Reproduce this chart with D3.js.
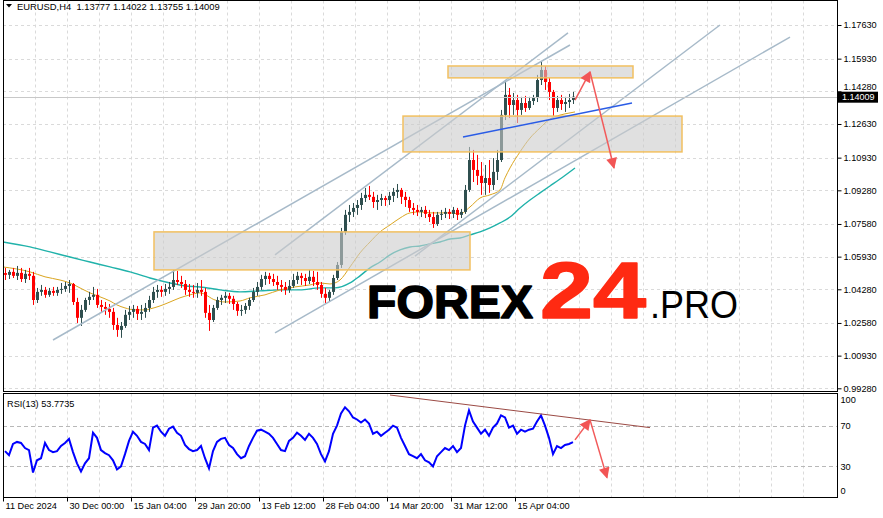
<!DOCTYPE html>
<html><head><meta charset="utf-8">
<script src="https://cdn.jsdelivr.net/npm/d3@7"></script>
<style>
body{margin:0;background:#fff;}
svg{display:block;}
text{font-family:"Liberation Sans",Arial,sans-serif;}
</style>
</head><body><svg id="c" width="883" height="518"></svg>
<script>
// ---------------- DATA ----------------
const symbolTitle = "EURUSD,H4  1.13777 1.14022 1.13755 1.14009";
const rsiTitle = "RSI(13) 53.7735";
const lastPrice = 1.14009;
const lastPriceLabel = "1.14009";

const priceTickValues = [1.17630,1.15930,1.14280,1.12630,1.10930,1.09280,1.07580,1.05930,1.04280,1.02580,1.00930,0.99280];
const priceTickLabels = ["1.17630","1.15930","1.14280","1.12630","1.10930","1.09280","1.07580","1.05930","1.04280","1.02580","1.00930","0.99280"];
const rsiTicks = [100,70,30,0];
const rsiLevels = [70,30];

const timeLabels = ["11 Dec 2024","30 Dec 00:00","15 Jan 04:00","29 Jan 20:00","13 Feb 12:00","28 Feb 04:00","14 Mar 20:00","31 Mar 12:00","15 Apr 04:00"];
const timeLabelBars = [0,64,128,192,256,320,384,448,512];

// candles (each one spans 4 H4 bars)
const barsPerCandle = 4;
const firstOpen = 1.0510;
const highs = [
1.0536,1.0526,1.0536,1.0546,1.0536,1.0526,1.0536,1.0516,1.0435,1.0450,
1.0440,1.0435,1.0440,1.0440,1.0460,1.0465,1.0475,1.0460,1.0385,1.0349,
1.0385,1.0415,1.0440,1.0430,1.0374,1.0364,1.0354,1.0334,1.0284,1.0263,
1.0324,1.0344,1.0349,1.0344,1.0349,1.0359,1.0395,1.0440,1.0450,1.0445,
1.0455,1.0465,1.0526,1.0521,1.0496,1.0475,1.0455,1.0450,1.0460,1.0475,
1.0435,1.0349,1.0349,1.0390,1.0400,1.0415,1.0410,1.0395,1.0364,1.0349,
1.0359,1.0385,1.0435,1.0465,1.0501,1.0516,1.0511,1.0506,1.0496,1.0475,
1.0465,1.0475,1.0506,1.0516,1.0511,1.0506,1.0526,1.0521,1.0516,1.0465,
1.0435,1.0425,1.0501,1.0566,1.0738,1.0829,1.0854,1.0864,1.0879,1.0915,
1.0940,1.0950,1.0920,1.0905,1.0910,1.0900,1.0920,1.0940,1.0960,1.0940,
1.0920,1.0895,1.0864,1.0854,1.0844,1.0849,1.0829,1.0819,1.0819,1.0829,
1.0839,1.0834,1.0844,1.0839,1.0834,1.0955,1.1147,1.1132,1.1107,1.1071,
1.1056,1.1081,1.1091,1.1132,1.1334,1.1485,1.1445,1.1420,1.1410,1.1400,
1.1405,1.1400,1.1410,1.1511,1.1576,1.1556,1.1496,1.1435,1.1405,1.1410,
1.1400,1.1415,1.1425];
const lows = [
1.0475,1.0480,1.0485,1.0475,1.0465,1.0460,1.0475,1.0349,1.0359,1.0395,
1.0385,1.0390,1.0395,1.0395,1.0405,1.0415,1.0410,1.0349,1.0258,1.0243,
1.0314,1.0349,1.0374,1.0334,1.0314,1.0299,1.0284,1.0223,1.0188,1.0183,
1.0233,1.0273,1.0284,1.0273,1.0273,1.0284,1.0314,1.0359,1.0385,1.0390,
1.0395,1.0405,1.0425,1.0450,1.0435,1.0400,1.0390,1.0385,1.0385,1.0395,
1.0284,1.0218,1.0263,1.0324,1.0349,1.0359,1.0354,1.0324,1.0294,1.0294,
1.0304,1.0324,1.0364,1.0395,1.0425,1.0450,1.0455,1.0445,1.0425,1.0415,
1.0400,1.0410,1.0435,1.0455,1.0450,1.0445,1.0455,1.0445,1.0425,1.0385,
1.0359,1.0364,1.0400,1.0475,1.0536,1.0703,1.0768,1.0793,1.0804,1.0829,
1.0869,1.0879,1.0839,1.0829,1.0849,1.0849,1.0854,1.0869,1.0889,1.0859,
1.0844,1.0819,1.0804,1.0798,1.0793,1.0788,1.0768,1.0738,1.0748,1.0778,
1.0788,1.0783,1.0788,1.0778,1.0788,1.0809,1.0920,1.0970,1.0955,1.0905,
1.0905,1.0915,1.0930,1.0980,1.1071,1.1283,1.1293,1.1309,1.1268,1.1309,
1.1324,1.1334,1.1359,1.1374,1.1460,1.1435,1.1384,1.1303,1.1324,1.1334,
1.1324,1.1344,1.1364];
const closes = [
1.0501,1.0516,1.0496,1.0511,1.0480,1.0506,1.0496,1.0374,1.0415,1.0425,
1.0400,1.0420,1.0410,1.0425,1.0430,1.0445,1.0455,1.0364,1.0284,1.0324,
1.0374,1.0390,1.0400,1.0349,1.0339,1.0329,1.0314,1.0248,1.0223,1.0243,
1.0299,1.0314,1.0329,1.0304,1.0314,1.0334,1.0374,1.0415,1.0425,1.0415,
1.0430,1.0440,1.0475,1.0465,1.0455,1.0425,1.0415,1.0410,1.0425,1.0415,
1.0309,1.0273,1.0334,1.0374,1.0385,1.0395,1.0380,1.0354,1.0319,1.0324,
1.0344,1.0374,1.0415,1.0440,1.0480,1.0496,1.0480,1.0465,1.0450,1.0440,
1.0425,1.0445,1.0475,1.0496,1.0485,1.0470,1.0491,1.0465,1.0450,1.0405,
1.0385,1.0415,1.0485,1.0551,1.0718,1.0804,1.0819,1.0839,1.0854,1.0889,
1.0905,1.0895,1.0869,1.0879,1.0889,1.0879,1.0900,1.0920,1.0930,1.0895,
1.0879,1.0839,1.0829,1.0819,1.0829,1.0809,1.0793,1.0758,1.0804,1.0809,
1.0819,1.0809,1.0829,1.0804,1.0819,1.0930,1.1081,1.1031,1.1001,1.0965,
1.0990,1.0955,1.1021,1.1081,1.1309,1.1410,1.1359,1.1384,1.1334,1.1369,
1.1344,1.1379,1.1394,1.1485,1.1536,1.1475,1.1425,1.1344,1.1384,1.1364,
1.1374,1.1384,1.14009];

const rsiValues = [
45,41,52,54,53,48,46,24,36,38,
53,46,44,45,50,53,57,44,33,25,
33,38,63,58,46,43,41,36,27,30,
42,55,64,60,54,52,46,68,70,64,
60,67,69,63,60,51,47,45,46,50,
38,28,45,54,57,58,51,48,42,38,
40,50,58,65,66,64,62,58,52,46,
45,55,58,63,60,56,62,58,52,42,
35,45,62,70,82,88,84,78,76,73,
76,72,62,64,60,63,66,70,68,58,
50,42,40,38,42,36,34,30,40,44,
48,46,50,44,48,70,85,74,68,62,
66,60,68,72,80,78,68,70,62,66,
64,66,67,74,80,70,58,42,50,48,
51,52,53.77];

// moving averages (bar index, value)
const maFastBars = [0,27,42,57,67,77,87,97,107,114,122,132,142,147,157,167,177,187,197,212,222,237,247,262,277,292,307,317,327,337,347,357,367,377,387,397,407,417,427,437,447,457,467,477,487,497,502,507,517,527,537,547,557,567,572];
const maFastValues = [1.0541,1.0516,1.0491,1.0475,1.0460,1.0435,1.0410,1.0390,1.0369,1.0349,1.0334,1.0324,1.0324,1.0329,1.0344,1.0364,1.0385,1.0400,1.0410,1.0374,1.0364,1.0369,1.0385,1.0400,1.0425,1.0440,1.0450,1.0460,1.0455,1.0475,1.0541,1.0612,1.0667,1.0718,1.0753,1.0788,1.0814,1.0819,1.0814,1.0814,1.0814,1.0809,1.0844,1.0889,1.0905,1.0930,1.0991,1.1041,1.1122,1.1192,1.1243,1.1288,1.1308,1.1319,1.1324];
const maSlowBars = [0,27,47,67,87,107,127,147,167,182,197,217,237,257,277,297,317,332,347,357,367,377,387,397,407,417,427,437,447,457,467,477,487,497,507,517,527,537,547,557,572];
const maSlowValues = [1.0667,1.0642,1.0617,1.0591,1.0566,1.0541,1.0516,1.0485,1.0460,1.0445,1.0440,1.0425,1.0415,1.0420,1.0425,1.0425,1.0435,1.0435,1.0460,1.0496,1.0536,1.0566,1.0602,1.0627,1.0642,1.0647,1.0657,1.0667,1.0682,1.0687,1.0703,1.0718,1.0738,1.0763,1.0793,1.0839,1.0879,1.0915,1.0950,1.0985,1.1041];

// drawn objects in (bar, price) space
const channelLines = [
  [50,1.0172,567,1.1662],
  [272,1.0602,565,1.1723],
  [272,1.0208,787,1.1702],
  [412,1.0596,717,1.1763]
];
const zones = [
  [445,630,1.1556,1.1496],
  [400,679,1.1303,1.1122],
  [151,467,1.0718,1.0526]
];
const supportLine = [460,1.1197,629,1.1369];
const forecastPrice = [[572,1.1384],[587,1.1526],[611,1.1041]];
const forecastRsi = [[572,56],[587,75.6],[604,19]];
const rsiTrend = [387,100,647,68];

// ---------------- LAYOUT ----------------
const L = 3, R = 837, mainTop = 0.5, mainBottom = 391.5, rsiTop = 393.5, rsiBottom = 497.5;
const svg = d3.select('#c');
svg.append('rect').attr('width',883).attr('height',518).attr('fill','#fff');

const x = d3.scaleLinear().domain([0,834]).range([L,R]);
const y = d3.scaleLinear().domain([0.99280,1.17630]).range([388.3,25]);
const yr = d3.scaleLinear().domain([0,100]).range([497,395]);

const defs = svg.append('defs');
defs.append('clipPath').attr('id','clipMain').append('rect')
  .attr('x',L).attr('y',mainTop).attr('width',R-L).attr('height',mainBottom-mainTop);
defs.append('clipPath').attr('id','clipRsi').append('rect')
  .attr('x',L).attr('y',rsiTop).attr('width',R-L).attr('height',rsiBottom-rsiTop);
defs.append('marker').attr('id','ah').attr('viewBox','0 0 10 10').attr('refX',9).attr('refY',5)
  .attr('markerWidth',13).attr('markerHeight',11).attr('markerUnits','userSpaceOnUse').attr('orient','auto')
  .append('path').attr('d','M0,0 L10,5 L0,10 Z').attr('fill','#f25555');

// grid
const grid = svg.append('g').attr('stroke','#dadada').attr('stroke-dasharray','3,3').attr('stroke-width',1);
for (let k = 1; k <= 25; k++) {
  const gx = Math.round(x(32*k)) + 0.5;
  grid.append('line').attr('x1',gx).attr('x2',gx).attr('y1',mainTop).attr('y2',mainBottom);
  grid.append('line').attr('x1',gx).attr('x2',gx).attr('y1',rsiTop).attr('y2',rsiBottom);
}
priceTickValues.forEach(v => {
  const gy = Math.round(y(v)) + 0.5;
  grid.append('line').attr('x1',L).attr('x2',R).attr('y1',gy).attr('y2',gy);
});
rsiLevels.forEach(v => {
  const gy = Math.round(yr(v)) + 0.5;
  svg.append('line').attr('x1',L).attr('x2',R).attr('y1',gy).attr('y2',gy)
    .attr('stroke','#b8b8b8').attr('stroke-dasharray','4,3');
});

const main = svg.append('g').attr('clip-path','url(#clipMain)');

// moving averages
const ln = d3.line().x(d => x(d[0])).y(d => y(d[1])).curve(d3.curveMonotoneX);
main.append('path').datum(maSlowBars.map((b,i)=>[b,maSlowValues[i]]))
  .attr('d',ln).attr('fill','none').attr('stroke','#20b2aa').attr('stroke-width',1.4);
main.append('path').datum(maFastBars.map((b,i)=>[b,maFastValues[i]]))
  .attr('d',ln).attr('fill','none').attr('stroke','#daa520').attr('stroke-width',1);

// candles
const candles = closes.map((c,i) => ({
  bar: i*barsPerCandle + barsPerCandle/2,
  o: i ? closes[i-1] : firstOpen, h: highs[i], l: lows[i], c
}));
const cg = main.append('g');
candles.forEach(d => {
  const col = d.c >= d.o ? '#2f4f4f' : '#ff0000';
  const cx = x(d.bar);
  cg.append('line').attr('x1',cx+0.5).attr('x2',cx+0.5).attr('y1',y(d.h)).attr('y2',y(d.l))
    .attr('stroke',col).attr('stroke-width',1);
  const top = Math.min(y(d.o),y(d.c));
  cg.append('rect').attr('x',cx-1).attr('width',3).attr('y',top)
    .attr('height',Math.max(1,Math.abs(y(d.o)-y(d.c)))).attr('fill',col);
});

// channel lines
channelLines.forEach(c => {
  main.append('line').attr('x1',x(c[0])).attr('y1',y(c[1])).attr('x2',x(c[2])).attr('y2',y(c[3]))
    .attr('stroke','#a7bac9').attr('stroke-width',1.5);
});

// zones
zones.forEach(z => {
  main.append('rect').attr('x',x(z[0])).attr('width',x(z[1])-x(z[0]))
    .attr('y',y(z[2])).attr('height',y(z[3])-y(z[2]))
    .attr('fill','#cccccc').attr('fill-opacity',0.6)
    .attr('stroke','#f2c060').attr('stroke-width',1.5);
});

// support line
main.append('line').attr('x1',x(supportLine[0])).attr('y1',y(supportLine[1]))
  .attr('x2',x(supportLine[2])).attr('y2',y(supportLine[3]))
  .attr('stroke','#2a5ce6').attr('stroke-width',1.5);

// current price line
main.append('line').attr('x1',L).attr('x2',R).attr('y1',Math.round(y(lastPrice))+0.5).attr('y2',Math.round(y(lastPrice))+0.5)
  .attr('stroke','#c8c8c8');

// forecast arrows
for (let i = 0; i < forecastPrice.length-1; i++) {
  const a = forecastPrice[i], b = forecastPrice[i+1];
  svg.append('line').attr('x1',x(a[0])).attr('y1',y(a[1])).attr('x2',x(b[0])).attr('y2',y(b[1]))
    .attr('stroke','#f25a5a').attr('stroke-width',1.5).attr('marker-end','url(#ah)');
}

// RSI
const rsiG = svg.append('g').attr('clip-path','url(#clipRsi)');
rsiG.append('path').datum(rsiValues.map((v,i)=>[i*barsPerCandle+barsPerCandle/2, v]))
  .attr('d', d3.line().x(d=>x(d[0])).y(d=>yr(d[1])))
  .attr('fill','none').attr('stroke','#0000ff').attr('stroke-width',2);
rsiG.append('line').attr('x1',x(rsiTrend[0])).attr('y1',yr(rsiTrend[1])).attr('x2',x(rsiTrend[2])).attr('y2',yr(rsiTrend[3]))
  .attr('stroke','#9b4a44').attr('stroke-width',1);
for (let i = 0; i < forecastRsi.length-1; i++) {
  const a = forecastRsi[i], b = forecastRsi[i+1];
  svg.append('line').attr('x1',x(a[0])).attr('y1',yr(a[1])).attr('x2',x(b[0])).attr('y2',yr(b[1]))
    .attr('stroke','#f25a5a').attr('stroke-width',1.5).attr('marker-end','url(#ah)');
}

// frames
const fr = svg.append('g').attr('stroke','#000').attr('stroke-width',1).attr('fill','none');
fr.append('rect').attr('x',L+0.5).attr('y',mainTop).attr('width',R-L).attr('height',mainBottom-mainTop);
fr.append('rect').attr('x',L+0.5).attr('y',rsiTop).attr('width',R-L).attr('height',rsiBottom-rsiTop);

// price axis
const ax = svg.append('g').attr('transform',`translate(${R+0.5},0)`)
  .call(d3.axisRight(y).tickValues(priceTickValues).tickFormat((d,i)=>priceTickLabels[i]).tickSize(4).tickPadding(2));
ax.select('.domain').remove();
ax.selectAll('text').attr('font-size',9.2).attr('font-family','"Liberation Sans",Arial,sans-serif').attr('fill','#000')
  .attr('dy', d => d === 1.14280 ? '-0.25em' : '0.32em');
ax.selectAll('line').attr('stroke','#000');

// current price label
const lpY = y(lastPrice);
svg.append('rect').attr('x',838).attr('y',lpY-5).attr('width',40).attr('height',11).attr('fill','#000');
svg.append('text').attr('x',842).attr('y',lpY+3.8).attr('font-size',9).attr('fill','#fff').text(lastPriceLabel);

// rsi axis
const rAx = svg.append('g').attr('transform',`translate(${R+0.5},0)`)
  .call(d3.axisRight(yr).tickValues(rsiTicks).tickSize(0).tickPadding(3));
rAx.select('.domain').remove();
rAx.selectAll('text').attr('font-size',9.2).attr('font-family','"Liberation Sans",Arial,sans-serif').attr('fill','#000')
  .attr('dy', d => d === 100 ? '0.85em' : (d === 0 ? '-0.35em' : '0.32em'));

// time axis
const tAx = svg.append('g').attr('transform',`translate(0,${rsiBottom})`)
  .call(d3.axisBottom(x).tickValues(timeLabelBars).tickFormat((d,i)=>timeLabels[i]).tickSize(4).tickPadding(2));
tAx.select('.domain').remove();
tAx.selectAll('line').attr('stroke','#000');
tAx.selectAll('text').attr('font-size',9.2).attr('font-family','"Liberation Sans",Arial,sans-serif').attr('fill','#000')
  .attr('text-anchor','start').attr('dx',2).attr('dy','0.6em');

// titles
svg.append('path').attr('d','M6,4 L12,4 L9,7.5 Z').attr('fill','#000');
svg.append('text').attr('x',17).attr('y',10).attr('font-size',9.4).attr('fill','#000').attr('xml:space','preserve').text(symbolTitle);
svg.append('text').attr('x',7).attr('y',406.5).attr('font-size',9.2).attr('fill','#000').text(rsiTitle);

// logo
const logo = svg.append('g').attr('font-family','Inter, Lato, Roboto, sans-serif');
logo.append('text').attr('x',367).attr('y',317.5).attr('font-size',47).attr('font-weight',900)
  .attr('fill','#000').attr('stroke','#000').attr('stroke-width',1.5).attr('stroke-linejoin','round')
  .attr('textLength',166).attr('lengthAdjust','spacingAndGlyphs').text('FOREX');
logo.append('text').attr('x',540).attr('y',317.5).attr('font-size',79).attr('font-weight',900)
  .attr('fill','#ff2a12').attr('stroke','#ff2a12').attr('stroke-width',1.5).attr('stroke-linejoin','round')
  .attr('textLength',106).attr('lengthAdjust','spacingAndGlyphs').text('24');
logo.append('text').attr('x',650).attr('y',317.5).attr('font-size',39).attr('font-weight',300)
  .attr('fill','#000').attr('textLength',88).attr('lengthAdjust','spacingAndGlyphs').text('.PRO');
</script></body></html>
